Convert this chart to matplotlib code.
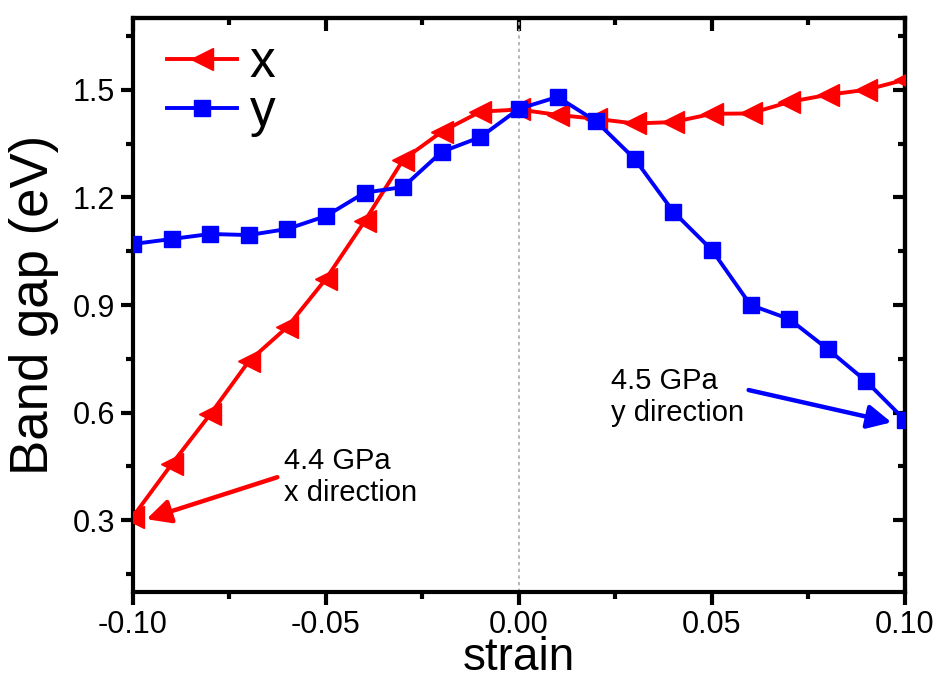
import matplotlib
matplotlib.use('Agg')
import matplotlib.pyplot as plt

plt.rcParams['font.family'] = ['Liberation Sans', 'DejaVu Sans']

# strain values
strain = [-0.10, -0.09, -0.08, -0.07, -0.06, -0.05, -0.04, -0.03, -0.02, -0.01, 0.00,
          0.01, 0.02, 0.03, 0.04, 0.05, 0.06, 0.07, 0.08, 0.09, 0.10]

# band gap for strain along x
gap_x = [0.31, 0.456, 0.595, 0.743, 0.839, 0.973, 1.133, 1.305, 1.383, 1.439, 1.445,
         1.430, 1.419, 1.406, 1.410, 1.433, 1.434, 1.466, 1.486, 1.500, 1.528]

# band gap for strain along y
gap_y = [1.070, 1.084, 1.098, 1.095, 1.112, 1.148, 1.213, 1.229, 1.327, 1.368, 1.447,
         1.480, 1.412, 1.307, 1.160, 1.053, 0.900, 0.861, 0.777, 0.687, 0.579]

fig = plt.figure(figsize=(9.41, 6.8), dpi=100)
ax = fig.add_axes([0.1413, 0.1294, 0.8204, 0.8441])

ax.axvline(0, color='#aaaaaa', lw=1.2, ls=(0, (2, 2)), zorder=1)

ax.plot(strain, gap_x, color='red', lw=2.8, marker='<', markersize=16, label='x', zorder=3)
ax.plot(strain, gap_y, color='blue', lw=2.8, marker='s', markersize=12, label='y', zorder=3)

ax.set_xlim(-0.10, 0.10)
ax.set_ylim(0.1, 1.7)
ax.set_xticks([-0.10, -0.05, 0.00, 0.05, 0.10])
ax.set_xticklabels(['-0.10', '-0.05', '0.00', '0.05', '0.10'])
ax.set_xticks([-0.075, -0.025, 0.025, 0.075], minor=True)
ax.set_yticks([0.3, 0.6, 0.9, 1.2, 1.5])
ax.set_yticklabels(['0.3', '0.6', '0.9', '1.2', '1.5'])
ax.set_yticks([0.15, 0.45, 0.75, 1.05, 1.35, 1.65], minor=True)

for s in ax.spines.values():
    s.set_linewidth(3)
ax.tick_params(which='major', direction='out', length=9, width=3, labelsize=22, pad=4)
ax.tick_params(which='minor', direction='out', length=5, width=3)

# mirror ticks pointing inward on top and right
top = ax.secondary_xaxis('top')
top.set_xticks([-0.10, -0.05, 0.00, 0.05, 0.10])
top.set_xticks([-0.075, -0.025, 0.025, 0.075], minor=True)
top.tick_params(which='major', direction='in', length=9, width=3, labeltop=False)
top.tick_params(which='minor', direction='in', length=5, width=3)
top.spines['top'].set_linewidth(3)
right = ax.secondary_yaxis('right')
right.set_yticks([0.3, 0.6, 0.9, 1.2, 1.5])
right.set_yticks([0.15, 0.45, 0.75, 1.05, 1.35, 1.65], minor=True)
right.tick_params(which='major', direction='in', length=9, width=3, labelright=False)
right.tick_params(which='minor', direction='in', length=5, width=3)
right.spines['right'].set_linewidth(3)

ax.set_xlabel('strain', fontsize=33, labelpad=-3)
ax.set_ylabel('Band gap (eV)', fontsize=38, labelpad=10)

# piler med trykk-kommentarer
ax.annotate('', xy=(-0.0965, 0.303), xytext=(-0.0626, 0.42),
            arrowprops=dict(arrowstyle='-|>', color='red', lw=3.2, mutation_scale=36,
                            shrinkA=0, shrinkB=0))
ax.text(-0.061, 0.505, '4.4 GPa\nx direction', fontsize=21, va='top', ha='left', linespacing=1.2)
ax.annotate('', xy=(0.0965, 0.573), xytext=(0.0595, 0.663),
            arrowprops=dict(arrowstyle='-|>', color='blue', lw=3.2, mutation_scale=36,
                            shrinkA=0, shrinkB=0))
ax.text(0.0239, 0.728, '4.5 GPa\ny direction', fontsize=21, va='top', ha='left', linespacing=1.2)

ax.legend(loc='upper left', frameon=False, fontsize=37, handlelength=1.35,
          handletextpad=0.25, labelspacing=0.0, borderaxespad=0.0, bbox_to_anchor=(0.018, 1.0))

fig.savefig('out.png', dpi=100)
